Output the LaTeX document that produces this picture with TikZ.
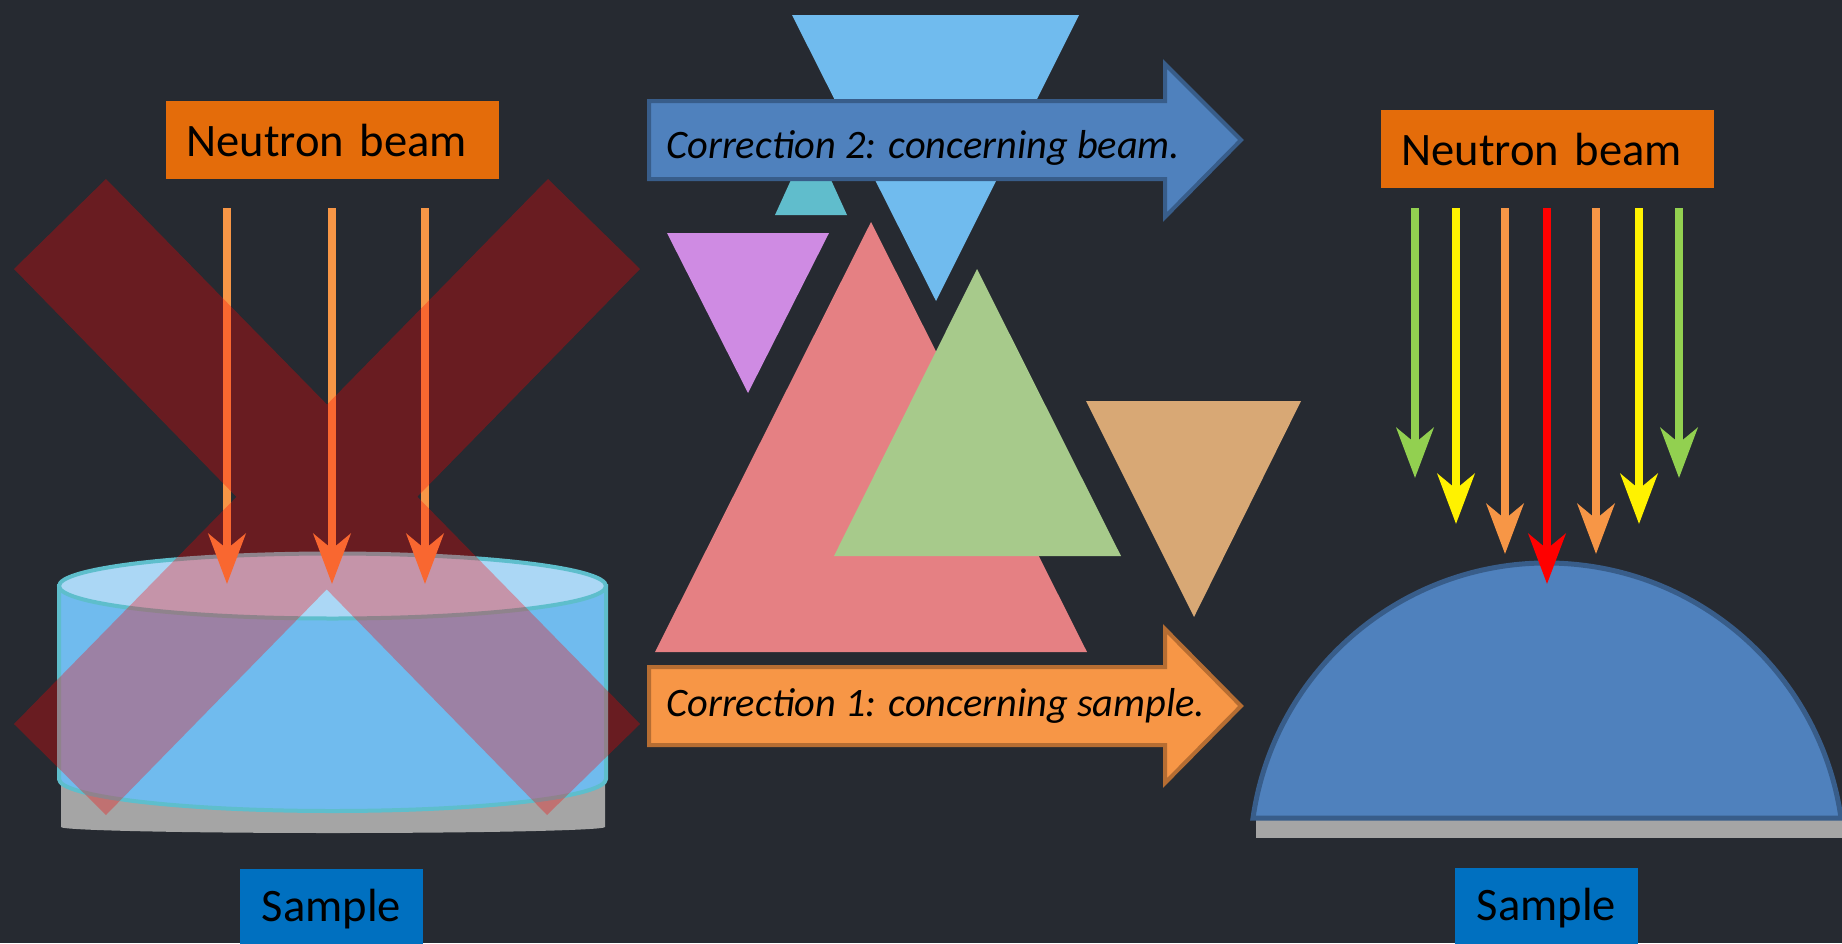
\documentclass[tikz,border=0pt]{standalone}
\usepackage{fontspec}
\setmainfont{Carlito}
\usetikzlibrary{arrows.meta}

\definecolor{bgdark}{RGB}{38,42,49}
\definecolor{beamorange}{RGB}{228,108,10}
\definecolor{sampleblue}{RGB}{0,112,192}
\definecolor{rayorange}{RGB}{247,150,70}
\definecolor{raygreen}{RGB}{146,208,80}
\definecolor{cylblue}{RGB}{112,187,238}
\definecolor{cyltop}{RGB}{171,215,245}
\definecolor{cylrim}{RGB}{94,190,204}
\definecolor{basegrey}{RGB}{165,165,165}
\definecolor{domeblue}{RGB}{79,129,189}
\definecolor{domeline}{RGB}{56,93,138}
\definecolor{corroline}{RGB}{182,109,50}
\definecolor{tealtri}{RGB}{96,189,204}
\definecolor{purpletri}{RGB}{207,139,227}
\definecolor{pinktri}{RGB}{229,128,131}
\definecolor{greentri}{RGB}{167,202,139}
\definecolor{tantri}{RGB}{216,168,117}

\tikzset{
	beam label/.style={rectangle, fill=beamorange, inner xsep=0.4cm, inner ysep=0pt, minimum height=1.56cm, text width=5.86cm, align=left, anchor=north west, font=\fontsize{26.5}{30}\selectfont},
	sample label/.style={rectangle, fill=sampleblue, inner sep=0pt, minimum width=3.66cm, minimum height=1.6cm, anchor=north, font=\fontsize{26.5}{30}\selectfont},
	ray/.style={line width=0.16cm, -{Stealth[length=1cm, width=0.74cm, inset=0.3cm]}},
	cross/.style={fill=red, fill opacity=0.31},
	correction/.style={line width=0.08cm, line join=miter},
	correction text/.style={inner sep=0pt, anchor=base west, font=\fontsize{23}{27}\selectfont\itshape},
}

\begin{document}
\begin{tikzpicture}[x=0.02cm, y=-0.02cm]

	\useasboundingbox (0,0) rectangle (1842,943);
	\fill[bgdark] (0,0) rectangle (1842,943);

	% cylinder sample
	\fill[basegrey] (61,760) -- (61,827) arc[start angle=180, end angle=0, x radius=272, y radius=6] -- (605,760) -- cycle;
	\filldraw[fill=cylblue, draw=cylrim, line width=0.08cm] (59,586) -- (59,779) arc[start angle=180, end angle=0, x radius=273.5, y radius=32] -- (606,586) -- cycle;
	\filldraw[fill=cyltop, draw=cylrim, line width=0.08cm] (332.5,586) ellipse[x radius=273.5, y radius=32.5];

	\foreach \x [count=\i] in {227,332,425} {
		\coordinate (srcL\i) at (\x,208);
		\coordinate (dstL\i) at (\x,584);
		\draw[ray, rayorange] (srcL\i) -- (dstL\i);
	}

	\fill[cross] (14,269) -- (106,179) -- (640,724) -- (547,815) -- cycle
		(548,179) -- (640,269) -- (106,815) -- (14,724) -- cycle;

	\node[beam label] (beamL) at (166,101) {Neutron beam};
	\node[sample label] (sampleL) at (331.5,869) {Sample};

	% triangles
	\fill[tealtri] (775,215) -- (847,215) -- (811,136) -- cycle;
	\fill[cylblue] (792,15) -- (1079,15) -- (936,301) -- cycle;
	\fill[purpletri] (667,233) -- (829,233) -- (748,393) -- cycle;
	\fill[pinktri] (871,222) -- (655,652) -- (1087,652) -- cycle;
	\fill[greentri] (977,269) -- (834,556) -- (1121,556) -- cycle;
	\fill[tantri] (1086,401) -- (1301,401) -- (1194,617) -- cycle;

	\filldraw[correction, fill=domeblue, draw=domeline] (649,101) -- (1165,101) -- (1165,64) -- (1241,140) -- (1165,217) -- (1165,179) -- (649,179) -- cycle;
	\node[correction text] (corr2) at (666,158) {Correction 2: concerning beam.};
	\filldraw[correction, fill=rayorange, draw=corroline] (649,667) -- (1165,667) -- (1165,629) -- (1241,706) -- (1165,783) -- (1165,745) -- (649,745) -- cycle;
	\node[correction text] (corr1) at (666,716) {Correction 1: concerning sample.};

	% dome sample
	\fill[basegrey] (1256,815) rectangle (1842,838);
	\filldraw[fill=domeblue, draw=domeline, line width=0.1cm] (1253,818) arc[start angle=188.13, end angle=351.87, radius=297] -- cycle;

	\foreach \x/\y/\c [count=\i] in {1415/478/raygreen, 1456/524/yellow, 1505/554/rayorange, 1547/584/red, 1596/554/rayorange, 1639/524/yellow, 1679/478/raygreen} {
		\coordinate (srcR\i) at (\x,208);
		\coordinate (dstR\i) at (\x,\y);
		\draw[ray, \c] (srcR\i) -- (dstR\i);
	}

	\node[beam label] (beamR) at (1381,110) {Neutron beam};
	\node[sample label] (sampleR) at (1546.5,868) {Sample};

\end{tikzpicture}
\end{document}
